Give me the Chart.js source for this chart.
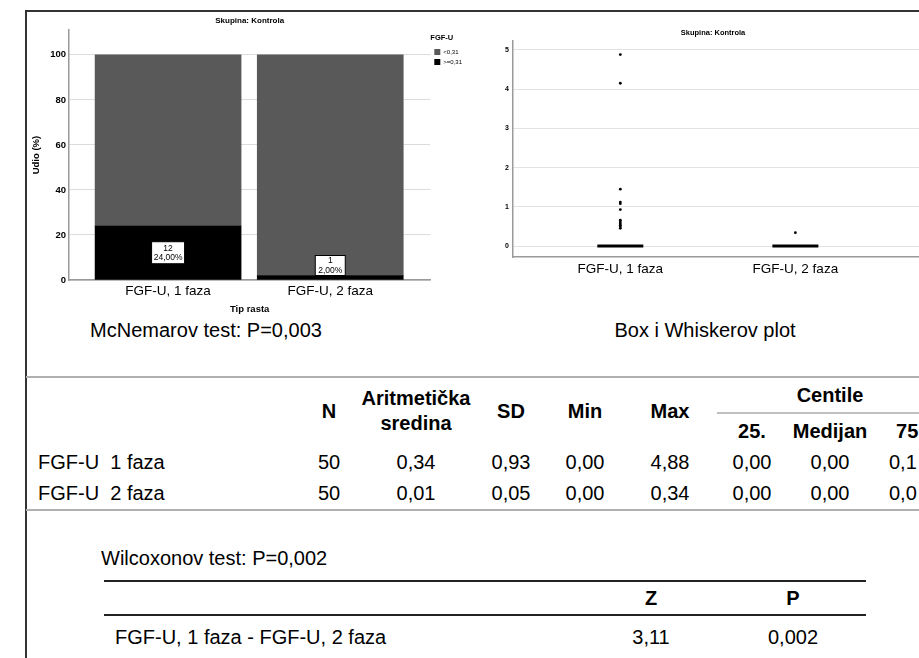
<!DOCTYPE html>
<html><head><meta charset="utf-8">
<script src="https://cdn.jsdelivr.net/npm/chart.js@4.4.0/dist/chart.umd.min.js"></script>
<style>
html,body{margin:0;padding:0;background:#fff;}
body{width:919px;height:658px;overflow:hidden;position:relative;font-family:"Liberation Sans",Arial,sans-serif;color:#000}
.t{position:absolute;white-space:nowrap;line-height:1}
.c{transform:translate(-50%,-50%)}
.l{transform:translate(0,-50%)}
.b{font-weight:bold}
.ln{position:absolute}
#w1{position:absolute;left:26px;top:12px;width:446px;height:305px}
#w2{position:absolute;left:470px;top:12px;width:486px;height:275px}
</style></head><body>
<div class="ln" style="left:26px;top:10px;width:893px;height:1.5px;background:#333"></div>
<div class="ln" style="left:25px;top:10px;width:1.5px;height:648px;background:#333"></div>
<div id="w1"><canvas id="c1" width="446" height="305"></canvas></div>
<div id="w2"><canvas id="c2" width="486" height="275"></canvas></div>
<div id="texts"></div>
<script>
// ---- data ----
const categories = ['FGF-U, 1 faza', 'FGF-U, 2 faza'];
const seriesLabels = ['<0,31', '>=0,31'];
const pctBelow = [76, 98];
const pctAbove = [24, 2];
const countAbove = [12, 1];
const barYTicks = [0, 20, 40, 60, 80, 100];
const outliers1 = [4.88, 4.15, 1.45, 1.12, 1.08, 0.93, 0.66, 0.61, 0.57, 0.53, 0.49, 0.45];
const outliers2 = [0.34];
const medians = [0, 0];
const boxYTicks = [0, 1, 2, 3, 4, 5];
const statHeaders = ['N', 'Aritmetička|sredina', 'SD', 'Min', 'Max'];
const centileHeaders = ['25.', 'Medijan', '75.'];
const statRowLabels = ['FGF-U  1 faza', 'FGF-U  2 faza'];
const statRows = [
  ['50', '0,34', '0,93', '0,00', '4,88', '0,00', '0,00', '0,1'],
  ['50', '0,01', '0,05', '0,00', '0,34', '0,00', '0,00', '0,0']
];
const mcnemarText = 'McNemarov test: P=0,003';
const boxCaption = 'Box i Whiskerov plot';
const wilcoxText = 'Wilcoxonov test: P=0,002';
const wilcoxHeaders = ['Z', 'P'];
const wilcoxRowLabel = 'FGF-U, 1 faza - FGF-U, 2 faza';
const wilcoxRow = ['3,11', '0,002'];

// ---- layout (not data) ----
const FONT = '"Liberation Sans", Arial, sans-serif';
Chart.defaults.font.family = FONT;
Chart.defaults.color = '#000';

const segLabels = {
  id: 'segLabels',
  afterDatasetsDraw(chart) {
    const ctx = chart.ctx;
    const meta = chart.getDatasetMeta(0);
    meta.data.forEach((el, i) => {
      const w = i === 0 ? 33 : 30, h = i === 0 ? 22 : 20;
      let cy = (el.y + el.base) / 2;
      cy = Math.min(cy, el.base - h / 2 - 4);
      ctx.save();
      ctx.fillStyle = '#fff'; ctx.strokeStyle = '#000'; ctx.lineWidth = 1;
      ctx.fillRect(el.x - w / 2, cy - h / 2, w, h);
      ctx.strokeRect(el.x - w / 2, cy - h / 2, w, h);
      ctx.fillStyle = '#000';
      ctx.font = '8.5px ' + FONT;
      ctx.textAlign = 'center'; ctx.textBaseline = 'middle';
      ctx.fillText(String(countAbove[i]), el.x, cy - 4.5);
      ctx.fillText(pctAbove[i].toFixed(2).replace('.', ',') + '%', el.x, cy + 4.8);
      ctx.restore();
    });
  }
};

new Chart(document.getElementById('c1'), {
  type: 'bar',
  data: {
    datasets: [
      { label: seriesLabels[1], data: categories.map((c, i) => ({ x: i + 1, y: pctAbove[i] })), backgroundColor: '#000', barThickness: 146 },
      { label: seriesLabels[0], data: categories.map((c, i) => ({ x: i + 1, y: pctBelow[i] })), backgroundColor: '#595959', barThickness: 146 }
    ]
  },
  options: {
    responsive: false, animation: false,
    layout: { padding: 0 },
    plugins: {
      tooltip: { enabled: false },
      title: { display: true, text: 'Skupina: Kontrola', fullSize: false, font: { size: 8, weight: 'bold' }, color: '#000', padding: { top: 3.5, bottom: 5 } },
      legend: {
        position: 'right', align: 'start', reverse: true,
        title: { display: true, text: 'FGF-U', position: 'start', font: { size: 7.5, weight: 'bold' }, color: '#000', padding: { top: 22, bottom: 2 } },
        labels: { boxWidth: 6, boxHeight: 6, font: { size: 6 }, color: '#000', padding: 4 }
      }
    },
    scales: {
      x: {
        type: 'linear', stacked: true, offset: false, min: 0.389, max: 2.617,
        afterBuildTicks: s => { s.ticks = categories.map((c, i) => ({ value: i + 1 })); },
        ticks: { callback: v => categories[v - 1], font: { size: 13.5 }, color: '#000', padding: 3, autoSkip: false, maxRotation: 0 },
        grid: { display: false, drawTicks: false },
        border: { color: '#9a9a9a', width: 1.5 },
        title: { display: true, text: 'Tip rasta', font: { size: 9.5, weight: 'bold' }, color: '#000', padding: { top: 0, bottom: 2 } },
        afterFit: s => { s.height = 37; }
      },
      y: {
        stacked: true, min: 0, max: 111,
        afterBuildTicks: s => { s.ticks = barYTicks.map(v => ({ value: v })); },
        ticks: { font: { size: 9.5, weight: 'bold' }, color: '#000', padding: 3 },
        grid: { color: '#dcdcdc', drawTicks: false },
        border: { color: '#9a9a9a', width: 1.5 },
        title: { display: true, text: 'Udio (%)', font: { size: 9.5, weight: 'bold' }, color: '#000', padding: { top: 5, bottom: 0 } },
        afterFit: s => { s.width = 43; }
      }
    }
  },
  plugins: [segLabels]
});

new Chart(document.getElementById('c2'), {
  type: 'scatter',
  data: {
    datasets: [
      { data: outliers1.map(v => ({ x: 1, y: v })).concat(outliers2.map(v => ({ x: 2, y: v }))), pointRadius: 1.4, backgroundColor: '#000', borderWidth: 0 },
      { data: medians.map((m, i) => ({ x: i + 1, y: m })), pointStyle: 'line', pointRadius: 23, borderColor: '#000', borderWidth: 3 }
    ]
  },
  options: {
    responsive: false, animation: false,
    layout: { padding: 0 },
    plugins: {
      tooltip: { enabled: false }, legend: { display: false },
      title: { display: true, text: 'Skupina: Kontrola', font: { size: 7.5, weight: 'bold' }, color: '#000', padding: { top: 16, bottom: 3.5 } }
    },
    scales: {
      x: {
        type: 'linear', min: 0.387, max: 2.769,
        afterBuildTicks: s => { s.ticks = categories.map((c, i) => ({ value: i + 1 })); },
        ticks: { callback: v => categories[v - 1], font: { size: 13.5 }, color: '#000', padding: 4, autoSkip: false, maxRotation: 0 },
        grid: { display: false, drawTicks: false },
        border: { color: '#9a9a9a', width: 1.5 },
        afterFit: s => { s.height = 30; }
      },
      y: {
        min: -0.28, max: 5.24,
        afterBuildTicks: s => { s.ticks = boxYTicks.map(v => ({ value: v })); },
        ticks: { font: { size: 7, weight: 'bold' }, color: '#000', padding: 4 },
        grid: { color: '#e2e2e2', drawTicks: false },
        border: { color: '#9a9a9a', width: 1.5 },
        afterFit: s => { s.width = 43; }
      }
    }
  }
});

// ---- text & tables ----
const T = document.getElementById('texts');
function txt(s, x, y, cls, size) {
  const d = document.createElement('div');
  d.className = 't ' + cls;
  d.style.left = x + 'px'; d.style.top = y + 'px'; d.style.fontSize = (size || 20) + 'px';
  d.textContent = s; T.appendChild(d); return d;
}
function line(x, y, w, h, col) {
  const d = document.createElement('div');
  d.className = 'ln';
  d.style.cssText = `left:${x}px;top:${y}px;width:${w}px;height:${h}px;background:${col}`;
  T.appendChild(d);
}
txt(mcnemarText, 206, 330, 'c', 20);
txt(boxCaption, 705, 330, 'c', 20);

line(26, 376, 893, 2, '#b0b0b0');
const statX = [329, 416, 511, 585, 670];
statHeaders.forEach((h, i) => {
  if (h.includes('|')) {
    const [a, b] = h.split('|');
    txt(a, statX[i], 398, 'c b', 20); txt(b, statX[i], 423, 'c b', 20);
  } else txt(h, statX[i], 411, 'c b', 20);
});
txt('Centile', 830, 395, 'c b', 20);
line(717, 412, 202, 1.5, '#c0c0c0');
const centX = [752, 830, 910];
centileHeaders.forEach((h, i) => txt(h, centX[i], 431, 'c b', 20));
const valX = statX.concat(centX);
const rowY = [462, 493];
statRowLabels.forEach((lab, r) => {
  const d = txt(lab, 38, rowY[r], 'l', 20); d.style.whiteSpace = 'pre';
  statRows[r].forEach((v, i) => {
    if (i === 7) txt(v, 889, rowY[r], 'l', 20);
    else txt(v, valX[i], rowY[r], 'c', 20);
  });
});
line(26, 509, 893, 2, '#b0b0b0');

txt(wilcoxText, 101, 558, 'l', 20);
line(104, 580, 762, 2, '#222');
const wX = [651, 793];
wilcoxHeaders.forEach((h, i) => txt(h, wX[i], 598, 'c b', 20));
line(104, 614, 762, 2, '#222');
txt(wilcoxRowLabel, 115, 637, 'l', 20);
wilcoxRow.forEach((v, i) => txt(v, wX[i], 637, 'c', 20));
</script>
</body></html>
